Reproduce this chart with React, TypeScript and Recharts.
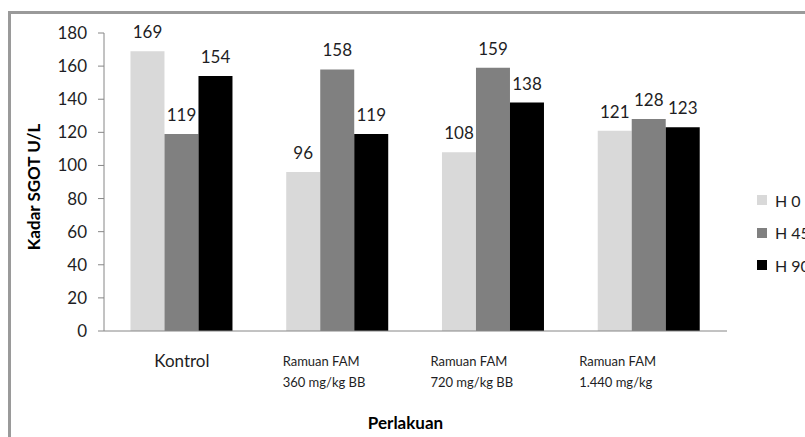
import {Bar, BarChart, LabelList, Legend, XAxis, YAxis} from "recharts";

// Kadar SGOT per kelompok perlakuan, hari ke-0 / 45 / 90
const categories = [
    "Kontrol",
    "Ramuan FAM\n360 mg/kg BB",
    "Ramuan FAM\n720 mg/kg BB",
    "Ramuan FAM\n1.440 mg/kg",
];
const seriesNames = ["H 0", "H 45", "H 90"];
const h0 = [169, 96, 108, 121];
const h45 = [119, 158, 159, 128];
const h90 = [154, 119, 138, 123];
const yTicks = [0, 20, 40, 60, 80, 100, 120, 140, 160, 180];

const COLORS = ["#d9d9d9", "#808080", "#000000"];
const TEXT = "#1e1e24";
const AXIS = "#868686";
const FONT = "Lato, 'Open Sans', sans-serif";

// two-line labels sit a little left of the category centre
const tickShift = [0, -55, -63, -70];

const chartData = categories.map((c, i) => ({
    kategori: c,
    h0: h0[i],
    h45: h45[i],
    h90: h90[i],
}));

function CategoryTick(props: any) {
    const {x, y, payload, index} = props;
    const lines: string[] = String(payload.value).split("\n");
    if (lines.length === 1) {
        return (
            <text x={x} y={y + 36} textAnchor="middle" fontSize={17} fill={TEXT} fontFamily={FONT}>
                {lines[0]}
            </text>
        );
    }
    const sx = x + (tickShift[index] ?? -60);
    return (
        <text fontSize={13} fill={TEXT} fontFamily={FONT}>
            {lines.map((l, i) => (
                <tspan key={i} x={sx} y={y + 35 + i * 21}>{l}</tspan>
            ))}
        </text>
    );
}

function LegendBox() {
    return (
        <div style={{fontFamily: FONT, fontSize: 16, color: TEXT}}>
            {seriesNames.map((n, i) => (
                <div key={n} style={{display: "flex", alignItems: "center", height: 32.5, whiteSpace: "nowrap"}}>
                    <span style={{width: 10, height: 10, background: COLORS[i], marginRight: 8, flex: "none"}}/>
                    {n}
                </div>
            ))}
        </div>
    );
}

function YLabel(props: any) {
    const {viewBox} = props;
    const cx = viewBox.x + 33;
    const cy = viewBox.y + viewBox.height / 2 + 5;
    return (
        <text x={cx} y={cy} transform={`rotate(-90 ${cx} ${cy})`} textAnchor="middle" dominantBaseline="central"
              fontSize={17} fontWeight="bold" fill="#000" fontFamily={FONT}>
            Kadar SGOT U/L
        </text>
    );
}

export default function App() {
    return (
        <div style={{position: "absolute", left: 0, top: 0, width: 805, height: 437, overflow: "hidden", background: "#fff"}}>
            <div style={{
                position: "absolute", left: 8, top: 11, width: 900, height: 500,
                borderLeft: "3px solid #9a9a9a", borderTop: "3px solid #9a9a9a",
            }}/>
            <BarChart
                width={805}
                height={437}
                data={chartData}
                margin={{top: 33, right: 78, bottom: 0, left: 0}}
                barCategoryGap="17%"
                barGap={0}
                style={{position: "absolute", left: 0, top: 0}}
            >
                <XAxis
                    dataKey="kategori"
                    height={106}
                    tickLine={false}
                    tickSize={0}
                    tickMargin={0}
                    interval={0}
                    axisLine={{stroke: AXIS}}
                    tick={<CategoryTick/>}
                    label={{value: "Perlakuan", position: "insideBottom", offset: 8, dx: -10,
                        style: {fontSize: 17, fontWeight: "bold", fill: "#000", fontFamily: FONT}}}
                />
                <YAxis
                    width={104}
                    domain={[0, 180]}
                    ticks={yTicks}
                    interval={0}
                    tickSize={6}
                    tickMargin={11}
                    axisLine={{stroke: AXIS}}
                    tickLine={{stroke: AXIS}}
                    tick={{fontSize: 17, fill: TEXT, fontFamily: FONT}}
                    label={<YLabel/>}
                />
                <Legend
                    layout="horizontal"
                    verticalAlign="middle"
                    align="center"
                    wrapperStyle={{left: 757, top: 184, width: 80}}
                    content={<LegendBox/>}
                />
                {["h0", "h45", "h90"].map((k, i) => (
                    <Bar key={k} dataKey={k} name={seriesNames[i]} fill={COLORS[i]} isAnimationActive={false}>
                        <LabelList dataKey={k} position="top" offset={13} fontSize={17} fill={TEXT} fontFamily={FONT}/>
                    </Bar>
                ))}
            </BarChart>
        </div>
    );
}
